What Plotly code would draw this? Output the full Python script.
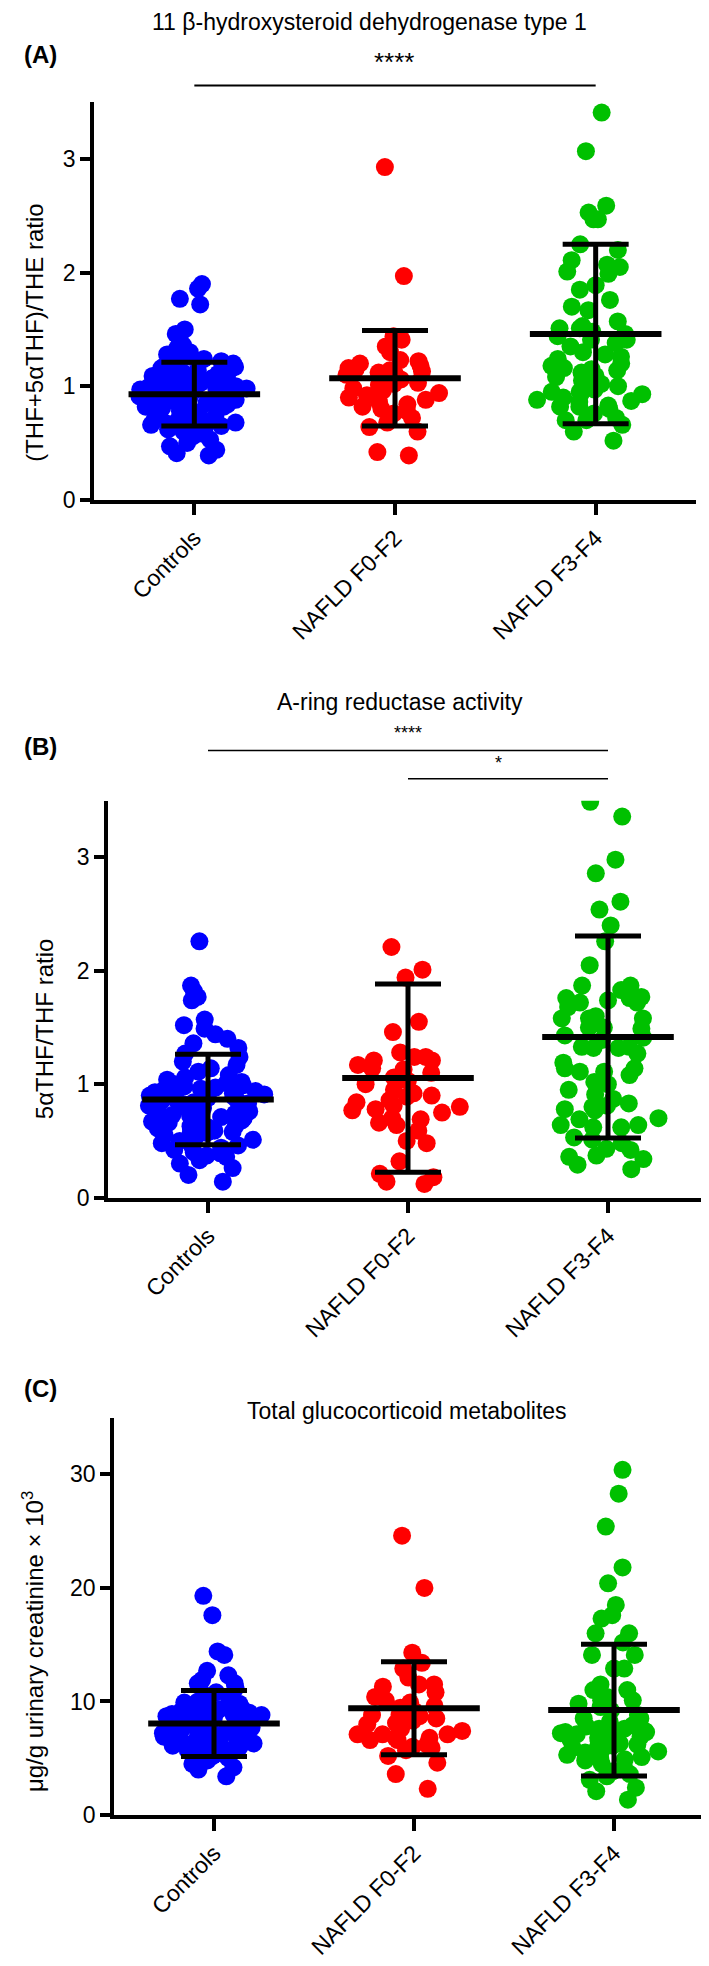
import plotly.graph_objects as go

W, H = 709, 1966
categories = ["Controls", "NAFLD F0-F2", "NAFLD F3-F4"]
colors = ["#0000FF", "#FF0000", "#00C000"]

# ---------- Panel A: (THF+5aTHF)/THE ratio ----------
a_controls = [1.90, 1.86, 1.77, 1.72, 1.50, 1.46, 1.42, 1.36, 1.33, 1.30, 1.28, 1.26, 1.24, 1.22, 1.21,
              1.20, 1.18, 1.17, 1.16, 1.15, 1.14, 1.12, 1.11, 1.10, 1.09, 1.08, 1.07, 1.06, 1.05, 1.04,
              1.03, 1.02, 1.01, 1.00, 0.99, 0.99, 0.98, 0.97, 0.97, 0.96, 0.95, 0.95, 0.94, 0.93, 0.93,
              0.92, 0.91, 0.91, 0.90, 0.89, 0.89, 0.88, 0.87, 0.87, 0.86, 0.85, 0.85, 0.84, 0.83, 0.82,
              0.82, 0.81, 0.80, 0.79, 0.78, 0.77, 0.76, 0.75, 0.74, 0.73, 0.72, 0.71, 0.70, 0.69, 0.68,
              0.67, 0.66, 0.65, 0.64, 0.63, 0.62, 0.60, 0.58, 0.56, 0.53, 0.50, 0.47, 0.44, 0.41, 0.39]
a_f0f2 = [2.93, 1.97, 1.44, 1.41, 1.35, 1.30, 1.23, 1.22, 1.20, 1.18, 1.16, 1.15, 1.14, 1.13, 1.12,
          1.11, 1.10, 1.08, 1.06, 1.03, 1.02, 1.01, 0.98, 0.96, 0.94, 0.92, 0.90, 0.88, 0.86, 0.84,
          0.82, 0.80, 0.78, 0.76, 0.72, 0.68, 0.64, 0.60, 0.42, 0.39]
a_f3f4 = [3.41, 3.07, 2.59, 2.53, 2.47, 2.47, 2.25, 2.20, 2.11, 2.07, 2.05, 2.01, 1.99, 1.89, 1.85,
          1.76, 1.70, 1.67, 1.57, 1.53, 1.51, 1.51, 1.48, 1.46, 1.44, 1.41, 1.41, 1.38, 1.35, 1.30,
          1.28, 1.26, 1.24, 1.20, 1.18, 1.16, 1.15, 1.14, 1.12, 1.09, 1.08, 1.05, 1.02, 1.00, 0.97,
          0.95, 0.95, 0.95, 0.93, 0.90, 0.88, 0.87, 0.86, 0.83, 0.82, 0.82, 0.80, 0.76, 0.72, 0.70,
          0.70, 0.66, 0.60, 0.52]
a_mean = [0.93, 1.07, 1.46]
a_sd = [0.28, 0.42, 0.79]

# ---------- Panel B: 5aTHF/THF ratio ----------
b_controls = [2.26, 1.87, 1.82, 1.77, 1.74, 1.57, 1.52, 1.49, 1.44, 1.40, 1.36, 1.32, 1.27, 1.24, 1.20,
              1.17, 1.14, 1.11, 1.08, 1.06, 1.04, 1.02, 1.01, 1.00, 0.99, 0.98, 0.97, 0.96, 0.95, 0.94,
              0.93, 0.92, 0.91, 0.90, 0.89, 0.88, 0.87, 0.86, 0.85, 0.84, 0.83, 0.82, 0.81, 0.80, 0.79,
              0.78, 0.77, 0.76, 0.75, 0.74, 0.73, 0.72, 0.71, 0.70, 0.69, 0.68, 0.67, 0.66, 0.65, 0.64,
              0.63, 0.62, 0.61, 0.60, 0.59, 0.58, 0.57, 0.56, 0.55, 0.53, 0.51, 0.50, 0.48, 0.46, 0.45,
              0.44, 0.42, 0.40, 0.39, 0.37, 0.36, 0.33, 0.30, 0.26, 0.20, 0.14]
b_f0f2 = [2.21, 2.01, 1.94, 1.55, 1.46, 1.28, 1.24, 1.24, 1.21, 1.21, 1.17, 1.14, 1.13, 1.10, 1.06,
          1.03, 1.00, 0.95, 0.92, 0.90, 0.89, 0.86, 0.84, 0.81, 0.80, 0.78, 0.77, 0.75, 0.70, 0.69,
          0.66, 0.64, 0.59, 0.50, 0.48, 0.32, 0.21, 0.18, 0.14, 0.12]
b_f3f4 = [3.49, 3.36, 2.98, 2.86, 2.61, 2.54, 2.40, 2.26, 2.05, 1.87, 1.87, 1.83, 1.77, 1.76, 1.76,
          1.74, 1.72, 1.72, 1.68, 1.60, 1.58, 1.58, 1.58, 1.50, 1.50, 1.49, 1.43, 1.41, 1.39, 1.33,
          1.33, 1.32, 1.32, 1.27, 1.19, 1.14, 1.14, 1.11, 1.11, 1.08, 1.02, 1.00, 0.95, 0.91, 0.87,
          0.83, 0.81, 0.80, 0.78, 0.77, 0.70, 0.69, 0.64, 0.64, 0.62, 0.62, 0.53, 0.51, 0.48, 0.43,
          0.42, 0.37, 0.36, 0.34, 0.29, 0.25]
b_mean = [0.865, 1.054, 1.416]
b_sd = [0.40, 0.83, 0.89]

# ---------- Panel C: total glucocorticoid metabolites ----------
c_controls = [19.3, 17.6, 14.4, 14.1, 12.7, 12.3, 11.9, 11.6, 11.6, 11.2, 10.8, 10.5, 10.2, 10.0, 9.9,
              9.8, 9.7, 9.6, 9.5, 9.4, 9.3, 9.2, 9.15, 9.0, 8.9, 8.8, 8.8, 8.7, 8.6, 8.6, 8.5, 8.5, 8.4,
              8.3, 8.2, 8.1, 8.0, 8.0, 7.9, 7.9, 7.8, 7.7, 7.7, 7.6, 7.5, 7.5, 7.4, 7.4, 7.3, 7.3, 7.2,
              7.1, 7.1, 7.0, 7.0, 6.9, 6.9, 6.8, 6.8, 6.7, 6.6, 6.6, 6.5, 6.4, 6.3, 6.2, 6.1, 6.0, 5.9,
              5.8, 5.7, 5.6, 5.4, 5.2, 5.0, 4.8, 4.5, 4.2, 4.0, 3.4]
c_f0f2 = [24.6, 20.0, 14.3, 13.4, 12.9, 12.1, 11.5, 11.5, 11.3, 10.8, 10.4, 10.1, 9.9, 9.6, 9.45,
          9.2, 8.8, 8.8, 8.7, 8.5, 8.3, 8.1, 8.0, 7.6, 7.4, 7.1, 7.1, 7.1, 6.8, 6.8, 6.6, 6.6, 6.2,
          6.0, 5.9, 5.7, 5.2, 4.6, 3.6, 2.3]
c_f3f4 = [30.4, 28.3, 25.4, 21.8, 20.4, 18.5, 17.6, 17.3, 16.0, 16.0, 15.2, 14.1, 14.1, 12.9, 12.9,
          11.5, 11.0, 11.0, 10.4, 10.1, 10.1, 9.8, 9.5, 9.2, 8.8, 8.5, 8.5, 8.2, 7.9, 7.8, 7.6, 7.6,
          7.4, 7.3, 7.3, 7.2, 7.1, 7.0, 6.9, 6.8, 6.6, 6.6, 6.5, 6.3, 6.2, 6.1, 5.9, 5.9, 5.7, 5.6,
          5.5, 5.3, 5.1, 5.0, 4.9, 4.8, 4.5, 4.2, 3.85, 3.6, 3.4, 3.1, 2.4, 2.1, 1.35]
c_mean = [8.06, 9.40, 9.24]
c_sd = [2.90, 4.10, 5.80]

panels = [
    dict(groups=[a_controls, a_f0f2, a_f3f4], mean=a_mean, sd=a_sd, yrange=[0, 3.5], ticks=[0, 1, 2, 3],
         top=95, bottom=495, left=86, right=688),
    dict(groups=[b_controls, b_f0f2, b_f3f4], mean=b_mean, sd=b_sd, yrange=[0, 3.5], ticks=[0, 1, 2, 3],
         top=798, bottom=1197.5, left=100, right=700),
    dict(groups=[c_controls, c_f0f2, c_f3f4], mean=c_mean, sd=c_sd, yrange=[0, 35], ticks=[0, 10, 20, 30],
         top=1419, bottom=1819, left=106, right=706),
]

FONT = "Liberation Sans, Arial, Helvetica, sans-serif"

def py(px):
    return 1 - px / H

def pxx(px):
    return px / W

fig = go.Figure()
layout = dict(width=W, height=H, margin=dict(l=0, r=0, t=0, b=0), paper_bgcolor="white",
              plot_bgcolor="white", showlegend=False, hovermode=False,
              font=dict(family=FONT, color="black"))

for i, p in enumerate(panels):
    xa = "x" if i == 0 else f"x{i+1}"
    ya = "y" if i == 0 else f"y{i+1}"
    for g, vals in enumerate(p["groups"]):
        fig.add_trace(go.Box(
            x=[categories[g]] * len(vals), y=vals, xaxis=xa, yaxis=ya,
            boxpoints="all", jitter=1, pointpos=0, width=0.6,
            fillcolor="rgba(0,0,0,0)", line=dict(width=0, color="rgba(0,0,0,0)"),
            marker=dict(color=colors[g], size=18, opacity=1, line=dict(width=0)),
        ))
    fig.add_trace(go.Scatter(
        x=categories, y=p["mean"], xaxis=xa, yaxis=ya, mode="markers",
        marker=dict(symbol="line-ew", size=94, color="black", line=dict(width=6, color="black")),
        error_y=dict(type="data", array=p["sd"], visible=True, thickness=5, width=33, color="black"),
    ))
    axis_common = dict(showgrid=False, zeroline=False, showline=True, linecolor="black", linewidth=3.5,
                       ticks="outside", tickcolor="black", tickwidth=3.5,
                       tickfont=dict(family=FONT, size=23, color="black"))
    layout["xaxis" if i == 0 else f"xaxis{i+1}"] = dict(
        axis_common, domain=[pxx(p["left"]), pxx(p["right"])], anchor=ya,
        type="category", categoryorder="array", categoryarray=categories,
        range=[-0.5, 2.5], ticklen=12, tickangle=-45)
    layout["yaxis" if i == 0 else f"yaxis{i+1}"] = dict(
        axis_common, domain=[py(p["bottom"]), py(p["top"])], anchor=xa,
        range=p["yrange"], tickvals=p["ticks"], ticklen=10)

fig.update_layout(**layout)

ann = []
def text(x, y, s, size=23, bold=False, anchor="center", angle=0):
    ann.append(dict(x=pxx(x), y=py(y), xref="paper", yref="paper", text=f"<b>{s}</b>" if bold else s,
                    showarrow=False, xanchor=anchor, yanchor="middle", textangle=angle,
                    font=dict(family=FONT, size=size, color="black")))

# Panel A texts
text(361, 14, "11 β-hydroxysteroid dehydrogenase type 1", size=23)
text(14, 47, "(A)", size=24, bold=True, anchor="left")
text(386, 54, "****", size=26)
text(27, 327, "(THF+5αTHF)/THE ratio", size=24, angle=-90)
# Panel B texts
text(392, 699, "A-ring reductase activity", size=23)
text(14, 743, "(B)", size=24, bold=True, anchor="left")
text(400, 730, "****", size=18)
text(490, 760, "*", size=18)
text(36, 1028, "5αTHF/THF ratio", size=24, angle=-90)
# Panel C texts
text(14, 1390, "(C)", size=24, bold=True, anchor="left")
text(399, 1412, "Total glucocorticoid metabolites", size=23)
text(25, 1645, "μg/g urinary creatinine × 10<sup>3</sup>", size=24, angle=-90)

fig.update_layout(annotations=ann)

# significance bars (positions in axis-domain fractions of category centres)
def cat_frac(idx):
    return (idx + 0.5) / 3

sig = [("x", 0, 2, 78, 2.0), ("x2", 0, 2, 747.5, 1.5), ("x2", 1, 2, 776, 1.5)]
for xa, c0, c1, ypx, lw in sig:
    fig.add_shape(type="line", xref=f"{xa} domain", yref="paper",
                  x0=cat_frac(c0), x1=cat_frac(c1), y0=py(ypx), y1=py(ypx),
                  line=dict(color="black", width=lw))

fig.write_html("out.html")
